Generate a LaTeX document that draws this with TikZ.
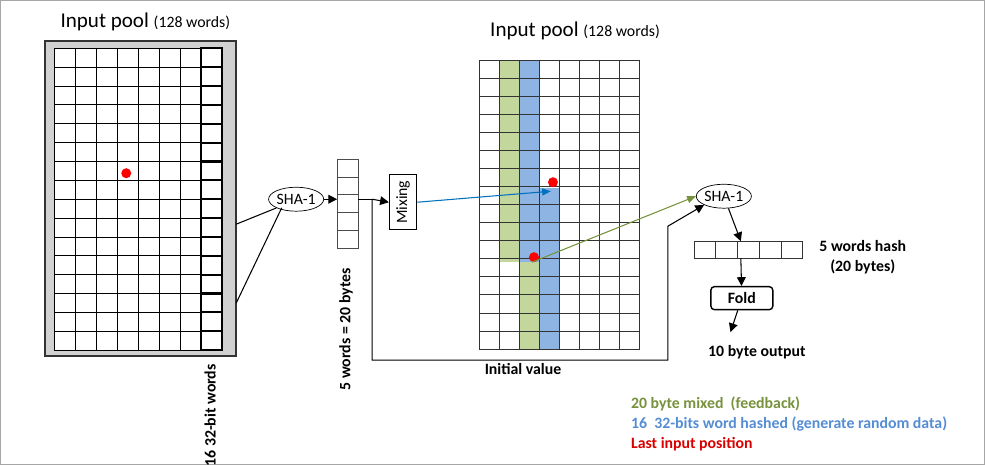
\documentclass[tikz,border=0pt]{standalone}
\usepackage{fontspec}
\setmainfont{Carlito}
\usetikzlibrary{shapes}
\usetikzlibrary{arrows.meta}
\definecolor{mixgreen}{RGB}{195,214,155}
\definecolor{hashblue}{RGB}{141,180,226}
\definecolor{legendgreen}{RGB}{118,146,60}
\definecolor{legendblue}{RGB}{84,141,212}
\definecolor{arrowblue}{RGB}{0,112,192}

\begin{document}
\begin{tikzpicture}[x=0.02cm,y=-0.02cm,
    cell/.style={draw=black,line width=0.5pt},
    flow/.style={-{Triangle[length=5pt,width=5pt]},line width=0.6pt},
    hash/.style={draw,ellipse,minimum width=1.1cm,minimum height=0.48cm,inner sep=0pt,font=\small},
    reddot/.style={circle,fill=red,inner sep=0pt,minimum size=0.2cm},
    lbl/.style={font=\small\bfseries}]
    \draw[gray!70] (0,0) rectangle (985,464);
    \useasboundingbox (0,0) rectangle (985,464);

    % left pool
    \filldraw[draw=black!80,fill=black!18,line width=1pt] (45,41) rectangle (236,356);
    \fill[white] (54,48) rectangle (222,350);
    \foreach \i in {0,...,16} \draw[cell] (54,48+\i*18.875) -- (222,48+\i*18.875);
    \foreach \j in {0,...,8} \draw[cell] (54+\j*21,48) -- (54+\j*21,350);
    \foreach \i in {0,...,16} \draw[line width=1.2pt] (201,48+\i*18.875) -- (222,48+\i*18.875);
    \draw[line width=1.2pt] (201,48) rectangle (222,350);
    \node[reddot] (dotA) at (126,173) {};
    \node[anchor=west,font=\large] (titleA) at (54,22) {Input pool {\small(128 words)}};
    \node[rotate=90,anchor=east,font=\small\bfseries] (sixteen) at (210,358) {16 32-bit words};
    \coordinate (poolA1) at (236,224);
    \coordinate (poolA2) at (236,303);

    \node[hash] (shaA) at (296,199) {SHA-1};
    \draw[line width=0.6pt] (poolA1) -- (shaA.south west);
    \draw[line width=0.6pt] (poolA2) -- ([xshift=3pt]shaA.south west);

    % 5 words box
    \foreach \i in {0,...,4} \draw[draw=black!70] (337,159+\i*17.8) rectangle (358,159+\i*17.8+17.8);
    \coordinate (wordsL) at (337,199);
    \coordinate (wordsR) at (358,199);
    \coordinate (split) at (372,199);
    \draw[flow] (shaA) -- (wordsL);
    \node[rotate=90,anchor=east,lbl] (wordlbl) at (346,262) {5 words = 20 bytes};

    \node[draw,line width=0.8pt,rotate=90,minimum width=0.96cm,minimum height=0.54cm,font=\small] (mix) at (403,202) {Mixing};
    \draw[line width=0.6pt] (wordsR) -- (split);
    \draw[flow] (split) -- (mix.north);

    % right pool
    \fill[mixgreen] (499,60) rectangle (519,262);
    \fill[mixgreen] (519,262) rectangle (539,349);
    \fill[hashblue] (519,60) rectangle (539,262);
    \fill[hashblue] (539,188) rectangle (559,349);
    \foreach \i in {0,...,16} \draw[cell,black!80] (479,60+\i*18.06) -- (640,60+\i*18.06);
    \foreach \j in {0,...,8} \draw[cell,black!80] (479+\j*20.1,60) -- (479+\j*20.1,349);
    \node[reddot] (dotB) at (553,182) {};
    \node[reddot] (dotC) at (534,257) {};
    \node[anchor=west,font=\large] (titleB) at (484,31) {Input pool {\small(128 words)}};
    \node[lbl] (initval) at (523,369) {Initial value};
    \coordinate (blueend) at (551,191);
    \coordinate (greenstart) at (532,262);
    \draw[-{Triangle[length=5pt,width=4pt]},arrowblue,line width=0.6pt] (mix.south) -- (blueend);

    \node[hash] (shaB) at (724,196) {SHA-1};
    \draw[-{Triangle[length=5pt,width=4pt]},legendgreen,line width=0.6pt] (greenstart) -- (shaB.west);
    \coordinate (loopA) at (372,360);
    \coordinate (loopB) at (668,360);
    \coordinate (loopC) at (668,226);
    \draw[flow] (split) -- (loopA) -- (loopB) -- (loopC) -- (shaB.south west);

    % output
    \foreach \j in {0,...,4} \draw[draw=black!80] (694+\j*21.8,241) rectangle (694+\j*21.8+21.8,258);
    \coordinate (outT) at (741,241);
    \coordinate (outB) at (741,258);
    \draw[flow] (shaB) -- (outT);
    \node[draw,rounded corners=2pt,line width=0.8pt,minimum width=1.24cm,minimum height=0.46cm,lbl] (fold) at (742,298) {Fold};
    \draw[flow] (outB) -- (fold);
    \node[lbl] (output) at (757,352) {10 byte output};
    \draw[flow] (fold) -- ([xshift=-15pt,yshift=4pt]output.north);
    \node[lbl,align=center] (hashlbl) at (863,257) {5 words hash\\(20 bytes)};

    % legend
    \node[anchor=west,lbl,legendgreen] (legA) at (625,404) {20 byte mixed\ \ (feedback)};
    \node[anchor=west,lbl,legendblue] (legB) at (625,424) {16\ \ 32-bits word hashed (generate random data)};
    \node[anchor=west,lbl,red!85!black] (legC) at (625,444) {Last input position};
\end{tikzpicture}
\end{document}
